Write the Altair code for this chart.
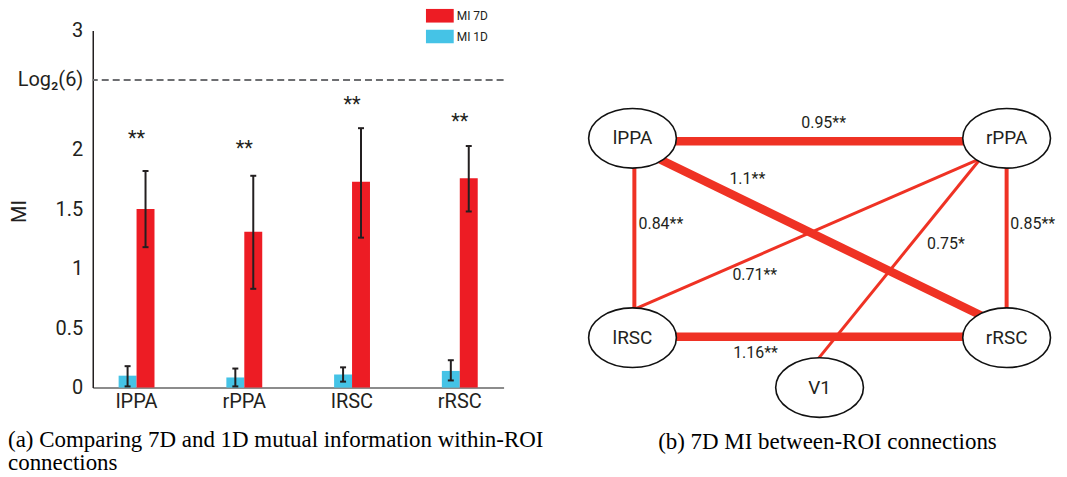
import math
import altair as alt
import pandas as pd

# ---------------- data: panel (a) ----------------
regions = ["lPPA", "rPPA", "lRSC", "rRSC"]
series_order = ["MI 1D", "MI 7D"]
legend_order = ["MI 7D", "MI 1D"]

mi_1d = [0.10, 0.085, 0.11, 0.14]
mi_1d_lo = [0.01, 0.01, 0.05, 0.06]
mi_1d_hi = [0.18, 0.16, 0.17, 0.23]
mi_7d = [1.50, 1.31, 1.73, 1.76]
mi_7d_lo = [1.18, 0.83, 1.26, 1.48]
mi_7d_hi = [1.82, 1.78, 2.18, 2.03]
sig_marks = ["**", "**", "**", "**"]
sig_y = [2.13, 2.05, 2.42, 2.27]
chance_level = math.log2(6)
y_tick_values = [0, 0.5, 1, 1.5, 2, chance_level, 3]

# ---------------- data: panel (b) ----------------
node_names = ["lPPA", "rPPA", "lRSC", "rRSC", "V1"]
node_u = [0, 10, 0, 10, 5]
node_v = [4, 4, 0, 0, -1]

edge_mi = [0.95, 1.1, 0.84, 0.85, 0.71, 0.75, 1.16]
edge_sig = ["**", "**", "**", "**", "**", "*", "**"]
edge_u1 = [0, 0.59, 0.05, 10, -0.05, 4.88, 0]
edge_v1 = [3.94, 3.63, 4, 4, 0.54, -0.5, 0.02]
edge_u2 = [10, 9.47, 0.05, 10, 9.39, 9.31, 10]
edge_v2 = [3.94, 0.39, 0, 0, 3.62, 3.6, 0.02]
edge_label_u = [4.51, 2.59, 0.16, 10.1, 2.67, 7.87, 2.69]
edge_label_v = [4.3, 3.18, 2.28, 2.28, 1.26, 1.88, -0.3]

SANS = "Roboto"
SERIF = "Liberation Serif"
INK = "#231F20"
RED = "#ED1C24"
CYAN = "#45C3E6"
EDGE_RED = "#EF3224"

# ---------------- panel (a) ----------------
bars_df = pd.DataFrame({
    "region": regions * 2,
    "series": ["MI 1D"] * 4 + ["MI 7D"] * 4,
    "mi": mi_1d + mi_7d,
    "lo": mi_1d_lo + mi_7d_lo,
    "hi": mi_1d_hi + mi_7d_hi,
})
sig_df = pd.DataFrame({"region": regions, "sig": sig_marks, "sig_y": sig_y})
chance_df = pd.DataFrame({"chance": [chance_level]})

x_enc = alt.X(
    "region:N", sort=regions,
    scale=alt.Scale(paddingInner=0.667, paddingOuter=0.24),
    axis=alt.Axis(title=None, labelAngle=0, labelFont=SANS, labelFontSize=20,
                  labelColor=INK, labelPadding=4, ticks=False,
                  domainColor="#8c8c8c", domainWidth=2),
)
xo_enc = alt.XOffset("series:N", sort=series_order,
                     scale=alt.Scale(paddingInner=0, paddingOuter=0))
y_scale = alt.Scale(domain=[0, 3], nice=False, zero=True)

bars = alt.Chart(bars_df).mark_bar().encode(
    x=x_enc,
    xOffset=xo_enc,
    y=alt.Y("mi:Q", scale=y_scale, axis=alt.Axis(
        values=y_tick_values, format="~g",
        labelExpr="datum.value > 2.5 && datum.value < 2.7 ? 'Log\u2082(6)' : datum.label",
        labelFont=SANS, labelFontSize=20, labelColor=INK, labelPadding=10,
        ticks=False, grid=False, domainColor=INK, domainWidth=1.5,
        title="MI", titleFont=SANS, titleFontSize=20, titleFontWeight="normal",
        titleColor=INK, titleX=-73, titleY=181, titleAngle=270,
        titleAlign="center", titleBaseline="middle")),
    color=alt.Color("series:N",
                    scale=alt.Scale(domain=legend_order, range=[RED, CYAN]),
                    legend=alt.Legend(
                        title=None, orient="none", legendX=334, legendY=-22,
                        padding=0, clipHeight=14,
                        symbolType="M-1,-1H3V1H-1Z", symbolSize=196,
                        symbolStrokeWidth=0, symbolOpacity=1,
                        labelFont=SANS, labelFontSize=12, labelColor=INK,
                        labelOffset=17, rowPadding=7)),
)

err_rule = alt.Chart(bars_df).mark_rule(color=INK, strokeWidth=2).encode(
    x=x_enc, xOffset=xo_enc,
    y=alt.Y("lo:Q", scale=y_scale), y2="hi:Q",
)
cap_lo = alt.Chart(bars_df).mark_tick(color=INK, thickness=2, size=6, opacity=1).encode(
    x=x_enc, xOffset=xo_enc, y=alt.Y("lo:Q", scale=y_scale),
)
cap_hi = alt.Chart(bars_df).mark_tick(color=INK, thickness=2, size=6, opacity=1).encode(
    x=x_enc, xOffset=xo_enc, y=alt.Y("hi:Q", scale=y_scale),
)
stars = alt.Chart(sig_df).mark_text(font=SANS, fontSize=20, color=INK,
                                    baseline="middle", dy=5).encode(
    x=x_enc, y=alt.Y("sig_y:Q", scale=y_scale), text="sig:N",
)
chance_rule = alt.Chart(chance_df).mark_rule(
    color="#6d6e71", strokeWidth=2, strokeDash=[7, 4]).encode(
    y=alt.Y("chance:Q", scale=y_scale),
)

left = alt.layer(bars, err_rule, cap_lo, cap_hi, stars, chance_rule).properties(
    width=412, height=358,
    title=alt.Title(
        text=["(a) Comparing 7D and 1D mutual information within-ROI", "connections"],
        orient="bottom", anchor="start", frame="group", dx=-85, offset=18,
        font=SERIF, fontSize=23, fontWeight="normal", color="black", lineHeight=23),
)

# ---------------- panel (b) ----------------
nodes_df = pd.DataFrame({"name": node_names, "u": node_u, "v": node_v})
edges_df = pd.DataFrame({
    "mi": edge_mi, "u": edge_u1, "v": edge_v1, "u2": edge_u2, "v2": edge_v2,
})
elabel_df = pd.DataFrame({
    "label": [f"{m:g}{s}" for m, s in zip(edge_mi, edge_sig)],
    "u": edge_label_u, "v": edge_label_v,
})

ux = alt.Scale(domain=[-1.5, 11.4], nice=False, zero=False)
vy = alt.Scale(domain=[-1.64, 6.16], nice=False, zero=False)

edges = alt.Chart(edges_df).mark_rule(color=EDGE_RED, strokeCap="butt").encode(
    x=alt.X("u:Q", scale=ux, axis=None),
    y=alt.Y("v:Q", scale=vy, axis=None),
    x2="u2:Q", y2="v2:Q",
    strokeWidth=alt.StrokeWidth("mi:Q", scale=alt.Scale(
        type="threshold", domain=[0.8, 0.9], range=[3, 4, 8.5]), legend=None),
)

ellipse = ("M-1,0C-1,-0.3756,-0.5523,-0.68,0,-0.68C0.5523,-0.68,1,-0.3756,1,0"
           "C1,0.3756,0.5523,0.68,0,0.68C-0.5523,0.68,-1,0.3756,-1,0Z")
node_marks = alt.Chart(nodes_df).mark_point(
    shape=ellipse, size=7744, filled=True, fill="white", stroke="#111111",
    strokeWidth=1.6, opacity=1, fillOpacity=1, strokeOpacity=1).encode(
    x=alt.X("u:Q", scale=ux, axis=None),
    y=alt.Y("v:Q", scale=vy, axis=None),
)
node_text = alt.Chart(nodes_df).mark_text(
    font=SANS, fontSize=19, color=INK, baseline="middle").encode(
    x=alt.X("u:Q", scale=ux, axis=None),
    y=alt.Y("v:Q", scale=vy, axis=None),
    text="name:N",
)
edge_text = alt.Chart(elabel_df).mark_text(
    font=SANS, fontSize=16, color=INK, align="left", baseline="middle").encode(
    x=alt.X("u:Q", scale=ux, axis=None),
    y=alt.Y("v:Q", scale=vy, axis=None),
    text="label:N",
)

right = alt.layer(edges, node_marks, node_text, edge_text).properties(
    width=484, height=390,
    title=alt.Title(
        text="(b) 7D MI between-ROI connections",
        orient="bottom", anchor="start", frame="group", dx=82, offset=10,
        font=SERIF, fontSize=23, fontWeight="normal", color="black"),
)

chart = alt.hconcat(left, right, spacing=73, bounds="flush").resolve_scale(
    color="independent", x="independent", y="independent",
    strokeWidth="independent",
).properties(padding={"left": 0, "top": 0, "right": 0, "bottom": 0}).configure_view(stroke=None)

chart.save("out.html", embed_options={"renderer": "svg", "actions": False})
